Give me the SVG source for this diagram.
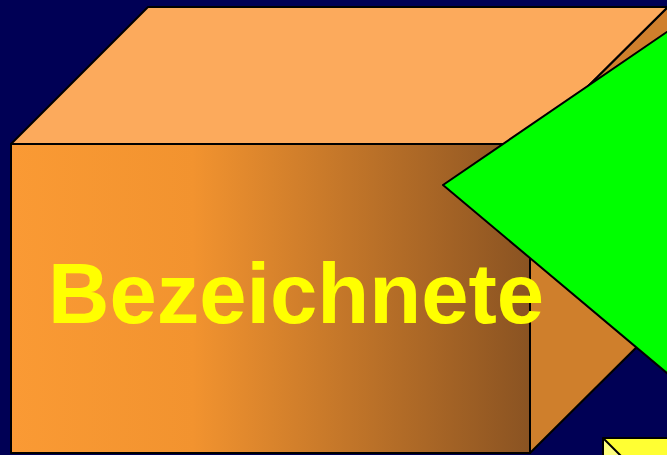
<svg xmlns="http://www.w3.org/2000/svg" width="667" height="455" viewBox="0 0 667 455">
<defs>
<linearGradient id="front" x1="0" y1="0" x2="1" y2="0">
<stop offset="0" stop-color="#FA9A34"/>
<stop offset="0.35" stop-color="#F2932F"/>
<stop offset="1" stop-color="#8A5322"/>
</linearGradient>
<style>
.edge{stroke:#000;stroke-width:2;stroke-linejoin:round}
.lbl{font-family:"Liberation Sans",Arial,sans-serif;font-weight:bold;font-size:85px;fill:#FFFF00}
</style>
</defs>
<rect width="667" height="455" fill="#000055"/>
<g id="box">
<polygon class="edge" points="11,144 148,7 668,7 530,144" fill="#FCAA5C"/>
<polygon class="edge" points="530,144 668,7 668,316 530,453" fill="#CF7F2C"/>
<rect class="edge" x="11" y="144" width="519" height="309" fill="url(#front)"/>
<text class="lbl" x="48" y="323">Bezeichnete</text>
</g>
<g id="triangle">
<polygon class="edge" points="443,185 680,23 680,384" fill="#00FF00"/>
</g>
<g id="box2">
<rect class="edge" x="603" y="438" width="70" height="30" fill="#FFFF33"/>
<polygon points="604,439 620,455 604,455" fill="#FFFF80"/>
<line class="edge" x1="603" y1="438" x2="621" y2="456"/>
</g>
</svg>
